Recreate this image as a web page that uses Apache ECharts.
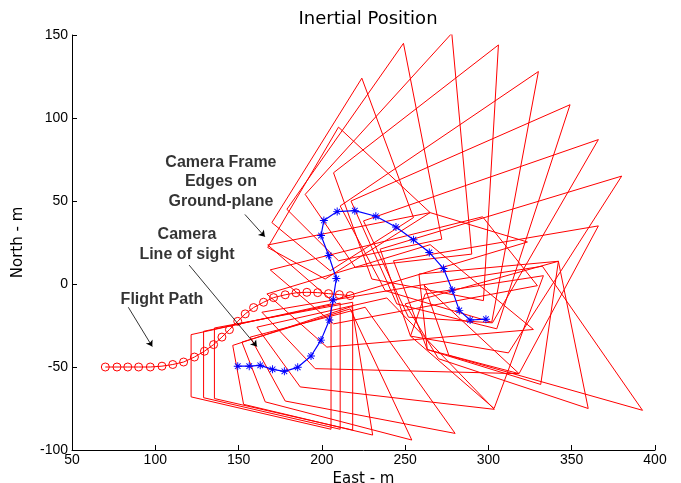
<!DOCTYPE html>
<html>
<head>
<meta charset="utf-8">
<script src="https://cdn.jsdelivr.net/npm/echarts@6/dist/echarts.min.js"></script>
<style>
  html, body { margin: 0; padding: 0; background: #fff; }
  #chart { width: 681px; height: 483px; }
</style>
</head>
<body>
<div id="chart"></div>
<script>
// flight path (red circles)
const flightX = [70, 77, 83.5, 90, 97, 104, 110.5, 117, 123.5, 129.5, 135, 140, 144.5, 149.5, 154, 159, 165, 171, 178, 184.5, 191, 197.5, 204, 210.5, 217];
const flightY = [-50, -50, -50, -50, -50, -49.5, -48.5, -47, -44, -40.5, -36.5, -32, -27.5, -22.5, -18, -14.2, -11, -8.2, -6.5, -5.3, -5, -5.2, -5.8, -6.4, -7];

// camera line of sight (blue stars)
const sightX = [149.5, 156.4, 163, 170.4, 177.5, 185.5, 193.5, 199.5, 204.5, 206.7, 208.7, 204.1, 199.5, 201.2, 209.2, 219.8, 232.4, 244.5, 255, 264.5, 273, 278.3, 282.5, 289, 298.5];
const sightY = [-49.5, -49.5, -49, -51.4, -52.6, -50.2, -43.4, -33.8, -21.7, -9.7, 3.3, 17.2, 29.2, 38.3, 43.6, 44.2, 40.8, 34.3, 26.7, 19, 9.3, -3.7, -15.9, -21.7, -21.2];

// camera frame corners on the ground plane, one quad per frame
const frames = [
  [[121.5, -30.5], [205.5, -12], [205.5, -87.5], [121.5, -68]],
  [[129, -28.5], [211, -11.5], [211, -87.5], [129, -68.5]],
  [[135.5, -26.5], [218.5, -11], [218.5, -88], [135.5, -69]],
  [[146.5, -37], [218, -13.5], [230.5, -91], [153, -72.5]],
  [[152, -35], [217, -15], [254, -94], [166, -71]],
  [[157, -32], [226, -14], [280, -90], [178, -70.5]],
  [[161, -26], [239, -8.4], [303.5, -75.5], [187, -62]],
  [[164, -17], [261, -0.4], [318.4, -54], [196, -51]],
  [[167, -6], [265, 23.7], [327, -27.4], [203, -38]],
  [[169, 8.5], [296.5, 40.5], [329.4, -1], [207, -24]],
  [[167.5, 23.5], [265, 43], [323.4, 25.3], [206, -10]],
  [[167.5, 22], [210, 94.5], [265, 43], [202, 3]],
  [[170, 37], [224, 124], [255, 40], [205, 8]],
  [[179, 45], [249, 145], [272, 27], [210, 14]],
  [[190, 54], [278, 151], [290, 18], [220, 10]],
  [[207, 67], [306, 144], [297, -10], [230, 3]],
  [[211, 47], [330, 128], [302, -23], [238, -4]],
  [[217.5, 50], [349, 108], [305, -27], [245, -12]],
  [[225, 38], [366, 87], [302.4, -23.4], [252, -20]],
  [[235, 21], [380, 65], [312, -41.5], [253.2, -31.4]],
  [[243, 14], [366, 35], [318.4, -54], [263.3, -39.5]],
  [[258.3, 6], [342, 13.7], [331.4, -60.5], [263.3, -39.5]],
  [[261.3, -0.4], [332.4, 10.7], [392.5, -76.1], [276.3, -43.1]],
  [[250, -12], [342, 13.7], [359.9, -75], [270, -45]],
  [[262, -6], [333, 5], [303.4, -75], [253.2, -31.4]]
];

const xTicks = [50, 100, 150, 200, 250, 300, 350, 400];
const yTicks = [-100, -50, 0, 50, 100, 150];

const chart = echarts.init(document.getElementById('chart'));
const font = 'Liberation Sans, Arial, sans-serif';

let series = [];
frames.forEach(function (f) {
  series.push({
    type: 'line',
    data: f.concat([f[0]]),
    showSymbol: false,
    silent: true,
    lineStyle: { color: '#ff0000', width: 1 },
    z: 2
  });
});

series.push({
  name: 'Flight Path',
  type: 'line',
  data: flightX.map((x, i) => [x, flightY[i]]),
  symbol: 'circle',
  symbolSize: 8,
  itemStyle: { color: 'rgba(0,0,0,0)', borderColor: '#ff0000', borderWidth: 1 },
  lineStyle: { color: '#ff0000', width: 1 },
  z: 4
});

const star = 'path://M-0.6,-5L0.6,-5L0.6,5L-0.6,5Z M-5,-0.6L5,-0.6L5,0.6L-5,0.6Z M-3.9,-3.1L-3.1,-3.9L3.9,3.1L3.1,3.9Z M3.1,-3.9L3.9,-3.1L-3.1,3.9L-3.9,3.1Z';
series.push({
  name: 'Line of sight',
  type: 'line',
  data: sightX.map((x, i) => [x, sightY[i]]),
  symbol: star,
  symbolSize: 8,
  itemStyle: { color: '#0000ff' },
  lineStyle: { color: '#0000ff', width: 1.2 },
  z: 5
});

// annotation arrows
series.push({
  type: 'lines',
  coordinateSystem: 'cartesian2d',
  symbol: ['none', 'arrow'],
  symbolSize: 6,
  silent: true,
  lineStyle: { color: '#000', width: 0.8, opacity: 1 },
  data: [
    { coords: [[153.8, 41.9], [165.8, 28.5]] },
    { coords: [[120.3, 11.4], [161, -37.7]] },
    { coords: [[83.8, -14], [98.2, -37.7]] }
  ],
  z: 6
});

const labels = [
  { text: 'Camera Frame', x: 139.4, y: 73.1 },
  { text: 'Edges on', x: 139.4, y: 61.5 },
  { text: 'Ground-plane', x: 139.4, y: 49.5 },
  { text: 'Camera', x: 119, y: 29.5 },
  { text: 'Line of sight', x: 119, y: 17.8 },
  { text: 'Flight Path', x: 104, y: -9.2 }
];
series.push({
  type: 'scatter',
  data: labels.map(l => ({ value: [l.x, l.y], label: { formatter: l.text } })),
  symbolSize: 0,
  silent: true,
  label: {
    show: true,
    position: 'inside',
    color: '#000',
    fontFamily: font,
    fontWeight: 'bold',
    fontSize: 16
  },
  z: 7
});

const option = {
  animation: false,
  backgroundColor: '#fff',
  title: {
    text: 'Inertial Position',
    left: 363,
    top: 5,
    textAlign: 'center',
    textStyle: { fontFamily: 'DejaVu Sans', fontWeight: 'normal', fontSize: 18, color: '#000' }
  },
  grid: { left: 72, right: 26, top: 35, bottom: 33, outerBoundsMode: 'none', containLabel: false },
  xAxis: {
    type: 'value',
    min: 50, max: 400, interval: 50,
    name: 'East - m',
    nameLocation: 'middle',
    nameGap: 17,
    nameTextStyle: { fontFamily: 'DejaVu Sans', fontSize: 15, color: '#000' },
    axisLine: { onZero: false, lineStyle: { color: '#000' } },
    axisTick: { inside: true, length: 5, lineStyle: { color: '#000' } },
    axisLabel: { fontFamily: font, fontSize: 14, color: '#000', margin: 3 },
    splitLine: { show: false }
  },
  yAxis: {
    type: 'value',
    min: -100, max: 150, interval: 50,
    name: 'North - m',
    nameLocation: 'middle',
    nameGap: 46,
    nameTextStyle: { fontFamily: 'DejaVu Sans', fontSize: 15, color: '#000' },
    axisLine: { onZero: false, lineStyle: { color: '#000' } },
    axisTick: { inside: true, length: 5, lineStyle: { color: '#000' } },
    axisLabel: { fontFamily: font, fontSize: 14, color: '#000', margin: 4 },
    splitLine: { show: false }
  },
  series: series
};
chart.setOption(option);
</script>
</body>
</html>
